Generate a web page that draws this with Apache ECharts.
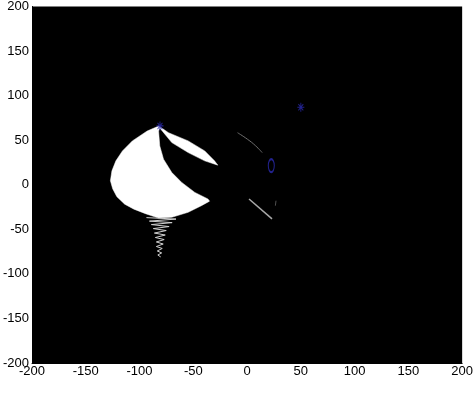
<!DOCTYPE html>
<html>
<head>
<meta charset="utf-8">
<script src="https://cdn.jsdelivr.net/npm/echarts@6/dist/echarts.min.js"></script>
<style>
  html, body { margin: 0; padding: 0; background: #fff; }
  #main { width: 476px; height: 395px; }
</style>
</head>
<body>
<div id="main"></div>
<script>
// axis ticks
const xTicks = [-200, -150, -100, -50, 0, 50, 100, 150, 200];
const yTicks = [-200, -150, -100, -50, 0, 50, 100, 150, 200];

// white lens, black crescent cut out of it (outline in data units)
const lensOutline = [
  [-82.1, 65.9], [-92.9, 60.3], [-106.7, 49.2], [-115.9, 38.0], [-122.0, 26.8],
  [-125.7, 15.6], [-127.1, 4.5], [-125.0, -4.5], [-121.1, -13.4], [-113.8, -21.8],
  [-105.2, -27.4], [-94.5, -32.4], [-82.3, -37.4], [-70.0, -36.5], [-54.8, -30.9],
  [-42.5, -23.5], [-34.9, -18.4],
  [-36.4, -16.0], [-48.6, -8.6], [-60.8, 2.6], [-70.0, 13.7], [-77.7, 28.7],
  [-81.2, 43.6], [-82.3, 60.3], [-81.2, 63.7],
  [-70.0, 47.3], [-54.8, 36.1], [-39.4, 26.8], [-27.2, 22.0],
  [-30.3, 26.8], [-39.4, 38.0], [-54.8, 49.2], [-73.1, 58.4]
];

// spring-like trace below the lens
const springTrace = [
  [-93.6, -36.9], [-66.1, -38.5], [-90.8, -40.8], [-69.7, -42.5], [-89.0, -44.7],
  [-72.5, -46.9], [-87.2, -49.2], [-75.2, -51.4], [-86.2, -54.2], [-76.1, -56.4],
  [-85.3, -59.2], [-77.1, -61.5], [-84.4, -64.2], [-78.0, -66.5], [-84.4, -69.3],
  [-78.9, -71.5], [-83.5, -74.3], [-79.4, -76.5], [-83.0, -78.8], [-80.3, -81.0]
];

// faint edges of the second crescent
const upperArc = [[-8.9, 58.4], [0.3, 51.1], [8.0, 43.6], [14.0, 36.1]];
const lowerEdge = [[1.8, -16.0], [23.2, -38.3]];
const shortEdge = [[26.9, -17.9], [26.3, -23.5]];

// markers
const starPoints = [[-81, 66], [50, 87]];
const circlePoints = [[22.5, 21.5]];

const starPath = 'path://M5,0L5,10M0,5L10,5M1.5,1.5L8.5,8.5M8.5,1.5L1.5,8.5';

const myChart = echarts.init(document.getElementById('main'));
const axisCommon = {
  type: 'value',
  min: -200,
  max: 200,
  interval: 50,
  splitLine: { show: false },
  axisTick: { show: false },
  axisLine: { show: true, onZero: false, lineStyle: { color: '#000' } },
  axisLabel: {
    color: '#000',
    fontSize: 13,
    fontFamily: '"Liberation Sans Narrow", "Liberation Sans", Arial, sans-serif'
  }
};
const option = {
  animation: false,
  backgroundColor: '#fff',
  grid: {
    left: 30, right: 10, top: 5, bottom: 32,
    show: true, backgroundColor: '#000', borderWidth: 0
  },
  xAxis: { ...axisCommon, axisLabel: { ...axisCommon.axisLabel, margin: 2 } },
  yAxis: { ...axisCommon, axisLabel: { ...axisCommon.axisLabel, margin: 3 } },
  series: [
    {
      type: 'custom',
      data: lensOutline,
      encode: { x: 0, y: 1 },
      renderItem: (params, api) => {
        if (params.dataIndex !== 0) return null;
        const pts = lensOutline.map(p => api.coord(p));
        return { type: 'polygon', shape: { points: pts }, style: { fill: '#fff', stroke: '#fff', lineWidth: 0.5 } };
      },
      z: 2
    },
    {
      type: 'line', data: springTrace, symbol: 'none',
      lineStyle: { color: '#d0d0d0', width: 1 }, z: 3
    },
    {
      type: 'line', data: upperArc, symbol: 'none', smooth: true,
      lineStyle: { color: '#707070', width: 1 }, z: 3
    },
    {
      type: 'line', data: lowerEdge, symbol: 'none',
      lineStyle: { color: '#a8a8a8', width: 1.5 }, z: 3
    },
    {
      type: 'line', data: shortEdge, symbol: 'none',
      lineStyle: { color: '#505050', width: 1 }, z: 3
    },
    {
      type: 'scatter', data: starPoints, symbol: starPath, symbolSize: [7, 9],
      itemStyle: { color: 'transparent', borderColor: '#2a2ab0', borderWidth: 1 }, z: 5
    },
    {
      type: 'scatter', data: circlePoints, symbol: 'circle', symbolSize: [6, 13],
      itemStyle: { color: 'transparent', borderColor: '#2a2ab0', borderWidth: 1.5 }, z: 5
    }
  ]
};
myChart.setOption(option);
</script>
</body>
</html>
